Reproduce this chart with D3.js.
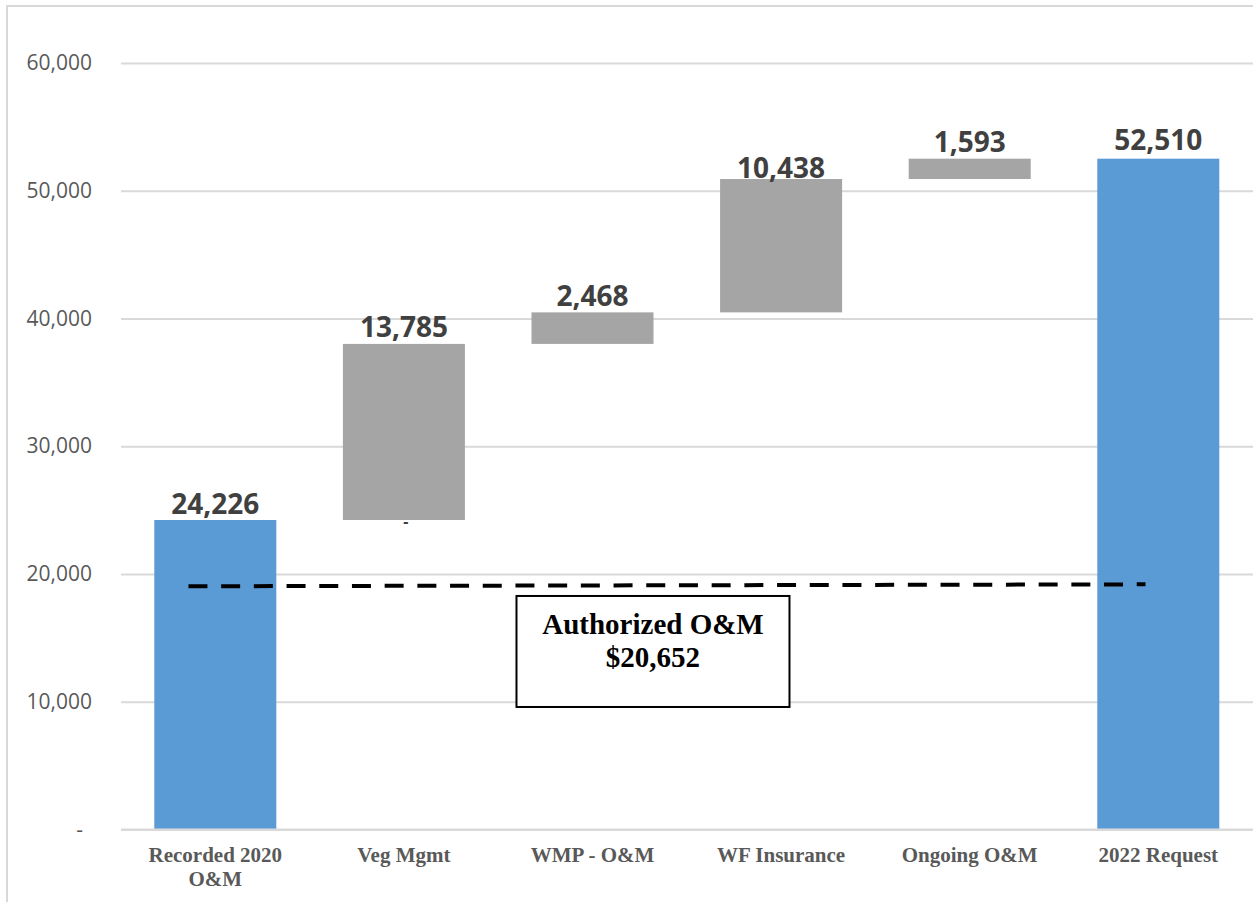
<!DOCTYPE html>
<html>
<head>
<meta charset="utf-8">
<script src="https://cdn.jsdelivr.net/npm/d3@7"></script>
<style>
  html, body { margin: 0; padding: 0; background: #ffffff; }
  svg { display: block; }
</style>
</head>
<body>
<svg id="chart" width="1253" height="902"></svg>
<script>
// O&M bridge: recorded 2020 spend, the drivers of change, and the 2022 request
const categories = ["Recorded 2020 O&M", "Veg Mgmt", "WMP - O&M", "WF Insurance", "Ongoing O&M", "2022 Request"];
const tickLines = [["Recorded 2020", "O&M"], ["Veg Mgmt"], ["WMP - O&M"], ["WF Insurance"], ["Ongoing O&M"], ["2022 Request"]];
const amounts = [24226, 13785, 2468, 10438, 1593, 52510];
const kinds = ["total", "step", "step", "step", "step", "total"];
const yTicks = [0, 10000, 20000, 30000, 40000, 50000, 60000];

// Authorized O&M reference line (start / end level) and its callout
const authorizedLine = [19040, 19190];
const authorizedLabel = ["Authorized O&M", "$20,652"];

const W = 1253, H = 902;
const plot = { left: 121, right: 1253, top: 63, bottom: 829.5 };

const svg = d3.select("#chart");

// outer frame
svg.append("rect")
  .attr("x", 7).attr("y", 6)
  .attr("width", W + 20).attr("height", H + 20)
  .attr("fill", "none")
  .attr("stroke", "#d9d9d9")
  .attr("stroke-width", 2);

const x = d3.scaleBand()
  .domain(categories)
  .range([plot.left, plot.left + 6 * 188.6])
  .paddingInner(0.353)
  .paddingOuter(0.1765);

const y = d3.scaleLinear()
  .domain([0, 60000])
  .range([plot.bottom, plot.top]);

// waterfall segments
let running = 0;
const bars = categories.map((c, i) => {
  let lo, hi;
  if (kinds[i] === "total") { lo = 0; hi = amounts[i]; running = amounts[i]; }
  else { lo = running; hi = running + amounts[i]; running = hi; }
  return { cat: c, lo, hi, value: amounts[i], kind: kinds[i] };
});

// y axis with gridlines
const yAxis = d3.axisLeft(y)
  .tickValues(yTicks)
  .tickSize(-(plot.right - plot.left))
  .tickPadding(29)
  .tickFormat(d => d === 0 ? "-" : d3.format(",")(d));

const gy = svg.append("g")
  .attr("transform", `translate(${plot.left},0)`)
  .call(yAxis);
gy.select(".domain").remove();
gy.selectAll(".tick line")
  .attr("stroke", "#d9d9d9")
  .attr("stroke-width", 2);
gy.selectAll(".tick text")
  .attr("fill", "#595959")
  .style("font-family", "'Open Sans', sans-serif")
  .style("font-size", "21px")
  .attr("dx", d => d === 0 ? -9 : 0);

// bars
svg.append("g").selectAll("rect")
  .data(bars)
  .join("rect")
  .attr("x", d => x(d.cat))
  .attr("width", x.bandwidth())
  .attr("y", d => y(d.hi))
  .attr("height", d => y(d.lo) - y(d.hi))
  .attr("fill", d => d.kind === "total" ? "#5b9bd5" : "#a5a5a5");

// zero label of the hidden base series under the first step
svg.append("text")
  .attr("x", x(categories[1]) + x.bandwidth() / 2 + 2)
  .attr("y", y(bars[1].lo) + 7)
  .attr("text-anchor", "middle")
  .attr("fill", "#404040")
  .style("font-family", "'Open Sans', sans-serif")
  .style("font-weight", "700")
  .style("font-size", "16px")
  .text("-");

// value labels
const labelGap = { "WF Insurance": 1, "2022 Request": 9 };
svg.append("g").selectAll("text")
  .data(bars)
  .join("text")
  .attr("x", d => x(d.cat) + x.bandwidth() / 2)
  .attr("y", d => y(d.hi) - (labelGap[d.cat] !== undefined ? labelGap[d.cat] : 6.5))
  .attr("text-anchor", "middle")
  .attr("fill", "#404040")
  .style("font-family", "'Open Sans', sans-serif")
  .style("font-weight", "700")
  .style("font-size", "28px")
  .text(d => d3.format(",")(d.value));

// baseline
svg.append("line")
  .attr("x1", plot.left).attr("x2", plot.right)
  .attr("y1", y(0)).attr("y2", y(0))
  .attr("stroke", "#d9d9d9").attr("stroke-width", 2);

// x axis labels
const xAxis = d3.axisBottom(x).tickSize(0).tickFormat(() => "");
const gx = svg.append("g")
  .attr("transform", `translate(0,${y(0)})`)
  .call(xAxis);
gx.select(".domain").remove();
gx.selectAll(".tick text")
  .attr("y", 0).attr("dy", null)
  .style("font-family", "'Liberation Serif', 'Times New Roman', serif")
  .style("font-weight", "700")
  .style("font-size", "21px")
  .attr("fill", "#595959")
  .each(function(d, i) {
    const t = d3.select(this);
    tickLines[i].forEach((ln, j) => {
      t.append("tspan")
        .attr("x", 0)
        .attr("y", 32 + j * 24)
        .text(ln);
    });
  });

// authorized level: dashed reference line
const first = categories[0], last = categories[categories.length - 1];
svg.append("line")
  .attr("x1", x(first) + x.bandwidth() * 0.28)
  .attr("x2", x(last) + x.bandwidth() * 0.395)
  .attr("y1", y(authorizedLine[0]))
  .attr("y2", y(authorizedLine[1]))
  .attr("stroke", "#000000")
  .attr("stroke-width", 4)
  .attr("stroke-dasharray", "19 13.7");

// callout box
const boxLeft = x(categories[2]) - 15;
const boxRight = boxLeft + 273;
const boxTop = y(18280), boxBottom = y(9590);
svg.append("rect")
  .attr("x", boxLeft).attr("y", boxTop)
  .attr("width", boxRight - boxLeft).attr("height", boxBottom - boxTop)
  .attr("fill", "#ffffff")
  .attr("stroke", "#000000")
  .attr("stroke-width", 2);

svg.append("text")
  .attr("text-anchor", "middle")
  .style("font-family", "'Liberation Serif', 'Times New Roman', serif")
  .style("font-weight", "700")
  .style("font-size", "29px")
  .attr("fill", "#000000")
  .selectAll("tspan")
  .data(authorizedLabel)
  .join("tspan")
  .attr("x", (boxLeft + boxRight) / 2)
  .attr("y", (d, i) => boxTop + 38 + i * 33)
  .text(d => d);
</script>
</body>
</html>
